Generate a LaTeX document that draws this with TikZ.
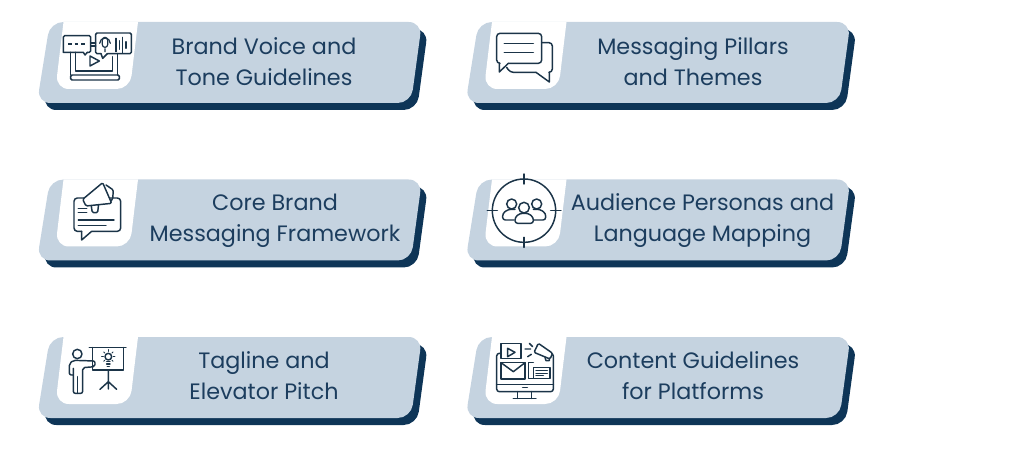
\documentclass[tikz,border=0pt]{standalone}
\usepackage{fontspec}
\setmainfont{Poppins}
\usepackage{xcolor}
\definecolor{cardcol}{HTML}{C5D3E0}
\definecolor{shadecol}{HTML}{0E3557}
\definecolor{textcol}{HTML}{1C3D5E}
\definecolor{iconcol}{HTML}{1B3448}
\tikzstyle{card label}=[textcol,align=center,font=\fontsize{16.7}{23.3}\selectfont]
\tikzstyle{icon}=[iconcol,line width=1.1pt,line join=round,line cap=round]
\tikzstyle{zoomed}=[shift={#1},x=0.25pt,y=-0.25pt]
\tikzstyle{soft}=[rounded corners=1pt]

\begin{document}
\begin{tikzpicture}[x=0.75pt,y=-0.75pt]
    \useasboundingbox (0,0) rectangle (1024,452);

    % the six cards
    \foreach \dx in {0,428.5}
      \foreach \dy in {0,157.5,315}
      {
        \begin{scope}[shift={(\dx,\dy)}]
          \fill[shadecol,rounded corners=10pt] (56,29) -- (428,29) -- (417,110) -- (43,110) -- cycle;
          \fill[cardcol,rounded corners=10pt] (50,22) -- (422,22) -- (411,103) -- (37,103) -- cycle;
          \fill[white] (63.5,22) -- (138,22) -- (134,55) [rounded corners=10pt] -- (130,89) -- (55.5,89) -- (59.5,55) [sharp corners] -- cycle;
        \end{scope}
      }

    \node[card label] (voice) at (264,61.2) {Brand Voice and\\Tone Guidelines};
    \node[card label] (core) at (275,221) {Core Brand\\Messaging Framework};
    \node[card label] (tagline) at (264,376) {Tagline and\\Elevator Pitch};
    \node[card label] (pillars) at (693,61.2) {Messaging Pillars\\and Themes};
    \node[card label] (personas) at (702.5,221) {Audience Personas and\\Language Mapping};
    \node[card label] (content) at (693,376) {Content Guidelines\\for Platforms};

    % laptop with two speech boxes
    \begin{scope}[zoomed={(30,10)},icon]
      \draw (122,127) -- (122,195) (262,131) -- (262,195) (137,127) -- (137,183) -- (248,183) -- (248,140);
      \draw[soft] (122,195) -- (268,195) -- (268,210) -- (122,210) -- cycle;
      \draw (180,138) -- (208,153) -- (180,168) -- cycle;
      \draw[soft] (100,127) -- (100,77) -- (182,77) -- (182,127) -- (172,127);
      \draw (100,127) -- (160,127) -- (165,135) -- (172,127);
      \draw[line width=0.9pt,dash pattern=on 2.8pt off 2pt,line cap=butt] (115,102) -- (165,102);
      \draw (182,99) -- (197,99) (182,108) -- (197,108);
      \draw[soft] (213,131) -- (197,131) -- (197,69) -- (304,69) -- (304,131) -- (232,131);
      \draw (213,131) -- (218,145) -- (232,131);
      \draw[rounded corners=2pt,line width=0.9pt] (217,82) rectangle (233,112);
      \draw[line width=0.9pt] (209,100) arc[start angle=180,end angle=360,radius=16] (225,116) -- (225,125);
      \draw[line width=0.9pt] (258,85) -- (258,125) (268,92) -- (268,118) (278,82) -- (278,128) (288,95) -- (288,115);
    \end{scope}

    % megaphone on a speech bubble
    \begin{scope}[zoomed={(30,170)},icon]
      \draw[rounded corners=2.5pt] (155,184) -- (132,184) -- (132,84) -- (272,84) -- (272,184) -- (185,184);
      \draw (155,184) -- (155,210) -- (185,184);
      \draw (145,115) -- (170,115) (145,128) -- (170,128) (145,150) -- (252,150) (145,167) -- (228,167);
      \draw[fill=white,soft] (183,103) -- (187,128) -- (203,128) -- (206,100) -- cycle;
      \draw[fill=white,soft] (158,88) -- (218,38) -- (245,100) -- (168,108) -- cycle;
      \draw[soft] (228,45) -- (250,60) -- (248,88) -- (243,92);
    \end{scope}

    % presenter at a board
    \begin{scope}[zoomed={(30,325)},icon]
      \draw (142,87) circle[radius=14];
      \draw[rounded corners=1.5pt] (130,130) -- (130,205) -- (158,205) -- (158,128) -- (195,125) -- (195,108) -- (130,106) -- (118,116) -- (118,150) -- (130,150);
      \draw (143,155) -- (143,205);
      \draw (178,68) -- (288,68) (187,68) -- (187,135) -- (280,135) -- (280,68);
      \draw (235,135) -- (235,170) (210,193) -- (235,170) -- (260,193) (235,170) -- (235,192);
      \draw (235,95) circle[radius=10];
      \draw (230,110) -- (240,110) (230,117) -- (240,117) (232,124) -- (238,124);
      \foreach \ang in {0,45,135,180,225,315}
        \draw[line width=0.7pt] (235,95) ++(\ang:15) -- ++(\ang:5);
      \draw[line width=0.7pt] (235,79) -- (235,74);
    \end{scope}

    % two speech bubbles
    \begin{scope}[zoomed={(460,10)},icon]
      \draw[rounded corners=2.5pt] (118,160) -- (110,160) -- (110,70) -- (245,70) -- (245,160) -- (145,160);
      \draw (118,160) -- (118,186) -- (145,160);
      \draw (133,100) -- (220,100) (133,127) -- (220,127);
      \draw[rounded corners=2.5pt] (245,98) -- (277,98) -- (277,187) -- (268,187);
      \draw (268,187) -- (268,216) -- (228,187);
      \draw[rounded corners=2.5pt] (228,187) -- (150,187) -- (140,172);
    \end{scope}

    % target around a group
    \begin{scope}[zoomed={(460,170)},icon]
      \draw (192,122) circle[radius=95];
      \draw (192,12) -- (192,42) (192,202) -- (192,232) (82,122) -- (112,122) (272,122) -- (303,122);
      \draw (155,102) circle[radius=15] (230,102) circle[radius=15];
      \draw[rounded corners=2pt] (162,150) -- (128,150) -- (128,130) -- (145,118) -- (165,118);
      \draw[rounded corners=2pt] (222,150) -- (257,150) -- (257,130) -- (240,118) -- (220,118);
      \draw (192,113) circle[radius=16];
      \draw[rounded corners=2pt] (165,160) -- (165,142) -- (180,130) -- (205,130) -- (220,142) -- (220,160) -- cycle;
    \end{scope}

    % monitor with mail, video and megaphone
    \begin{scope}[zoomed={(460,325)},icon]
      \draw[rounded corners=2pt] (123,85) -- (110,85) -- (110,200) -- (280,200) -- (280,85) -- (270,85);
      \draw (110,178) -- (280,178) (188,187) -- (202,187);
      \draw (172,200) -- (172,220) (215,200) -- (215,220) (160,220) -- (228,220);
      \draw[fill=white] (123,55) rectangle (183,100);
      \draw (143,70) -- (165,82) -- (143,95) -- cycle;
      \draw (123,113) rectangle (195,162);
      \draw (123,113) -- (160,140) -- (195,113);
      \draw (220,113) -- (205,113) -- (205,160) -- (220,160);
      \draw[fill=white] (220,127) rectangle (270,160);
      \draw (228,137) -- (262,137) (228,145) -- (262,145) (228,152) -- (250,152);
      \draw[fill=white,soft] (222,82) -- (235,55) -- (278,85) -- (270,102) -- cycle;
      \draw (255,97) -- (258,107) -- (268,107) -- (268,101);
      \draw (195,72) -- (212,72) (203,95) -- (214,88) (208,55) -- (218,65);
    \end{scope}
\end{tikzpicture}
\end{document}
